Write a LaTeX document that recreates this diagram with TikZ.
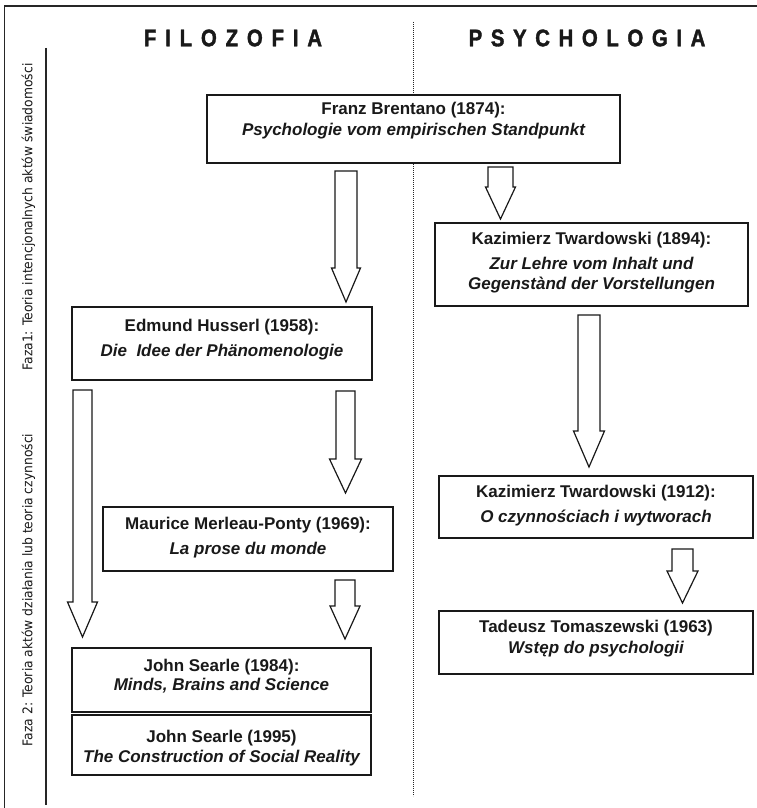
\documentclass[tikz,border=0pt]{standalone}
\usepackage{fontspec}
\setmainfont{Liberation Sans}
\newfontfamily\labfont{DejaVu Sans}[FakeStretch=0.92]
\newfontfamily\hfont{Liberation Sans}[FakeStretch=0.85, BoldFeatures={FakeBold=1.6}]
\newcommand\bxf{\fontsize{17}{20}\selectfont\bfseries}
\newcommand\hspA{\kern8.8pt}
\newcommand\hspB{\kern8.6pt}
% block arrow: #1 centre x, #2 top y, #3 head y, #4 tip y, #5 half shaft, #6 half head
\newcommand\barr[6]{%
  \draw[arrowline] ({#1-#5},#2) -- ({#1+#5},#2) -- ({#1+#5},#3) -- ({#1+#6},#3)
    -- (#1,#4) -- ({#1-#6},#3) -- ({#1-#5},#3) -- cycle;}
\begin{document}
\begin{tikzpicture}[x=1pt,y=-1pt,
  frame/.style={line width=1.1pt, draw=black!85},
  divider/.style={line width=0.9pt, dash pattern=on 1.4pt off 0.6pt, draw=black!85},
  box/.style={draw=black!90, line width=1.4pt, fill=white, inner sep=0pt},
  boxtxt/.style={align=center, font=\bxf, inner sep=0pt, text=black!90},
  arrowline/.style={draw=black!90, line width=1.2pt, fill=white, line join=miter},
  head/.style={font=\hfont\fontsize{24}{28}\selectfont\bfseries, inner sep=0pt, text=black!90},
  side/.style={font=\labfont\fontsize{13.4}{16}\selectfont, rotate=90, inner sep=0pt, text=black!90}]
\useasboundingbox (0,0) rectangle (757,808);
\fill[white] (0,0) rectangle (757,808);

% frame
\coordinate (ftr) at (757,6);
\coordinate (ftl) at (4.5,6);
\coordinate (fbl) at (4.5,808);
\draw[frame] (ftr) -- (ftl) -- (fbl);
\coordinate (itop) at (46,48);
\coordinate (ibot) at (46,805);
\draw[frame] (itop) -- (ibot);

% divider
\coordinate (dtop) at (413,22);
\coordinate (dbot) at (413,796);
\draw[divider] (dtop) -- (dbot);

% headers
\node[head] (filo) at (233,38) {F\hspA I\hspA L\hspA O\hspA Z\hspA O\hspA F\hspA I\hspA A};
\node[head] (psych) at (587,38) {P\hspB S\hspB Y\hspB C\hspB H\hspB O\hspB L\hspB O\hspB G\hspB I\hspB A};

% side labels
\node[side] (faza1) at (28.5,217) {Faza1: Teoria intencjonalnych aktów świadomości};
\node[side] (faza2) at (28.5,590) {Faza 2: Teoria aktów działania lub teoria czynności};

% boxes
\node[box, minimum width=413pt, minimum height=68pt] (bren) at (413.5,129) {};
\node[boxtxt] (brenT) at (413.5,121) {Franz Brentano (1874):\\[1pt] {\itshape Psychologie vom empirischen Standpunkt}};

\node[box, minimum width=300pt, minimum height=73pt] (huss) at (222,343.5) {};
\node[boxtxt] (hussT) at (222,340) {Edmund Husserl (1958):\\[5pt] {\itshape Die~ Idee der Phänomenologie}};

\node[box, minimum width=290pt, minimum height=64pt] (merl) at (248,539) {};
\node[boxtxt] (merlT) at (248,538) {Maurice Merleau-Ponty (1969):\\[5pt] {\itshape La prose du monde}};

\node[box, minimum width=299pt, minimum height=64pt] (sear1) at (221.5,680) {};
\node[boxtxt] (sear1T) at (221.5,676) {John Searle (1984):\\[-1pt] {\itshape Minds, Brains and Science}};

\node[box, minimum width=299pt, minimum height=60pt] (sear2) at (221.5,745) {};
\node[boxtxt] (sear2T) at (221.5,748.5) {John Searle (1995)\\[0pt] {\itshape The Construction of Social Reality}};

\node[box, minimum width=313pt, minimum height=83pt] (tw1) at (591.5,264.5) {};
\node[boxtxt] (tw1T) at (591.5,263) {Kazimierz Twardowski (1894):\\[5pt] {\itshape Zur Lehre vom Inhalt und}\\[0pt] {\itshape Gegenstànd der Vorstellungen}};

\node[box, minimum width=314pt, minimum height=62pt] (tw2) at (596,507) {};
\node[boxtxt] (tw2T) at (596,506) {Kazimierz Twardowski (1912):\\[5pt] {\itshape O czynnościach i wytworach}};

\node[box, minimum width=314pt, minimum height=63pt] (toma) at (596,642.5) {};
\node[boxtxt] (tomaT) at (596,639) {Tadeusz Tomaszewski (1963)\\[1pt] {\itshape Wstęp do psychologii}};

% block arrows
\barr{346}{171}{268}{302}{11}{14.5}
\barr{500.5}{167}{187}{219}{12.5}{15}
\barr{82.5}{390}{602}{637}{9.5}{15}
\barr{345.5}{391}{459}{493}{9.5}{16}
\barr{345}{580}{606}{639}{10}{15}
\barr{589}{315}{431}{467}{11}{15.5}
\barr{682.5}{549}{571}{603}{10.5}{15.5}
\end{tikzpicture}
\end{document}
